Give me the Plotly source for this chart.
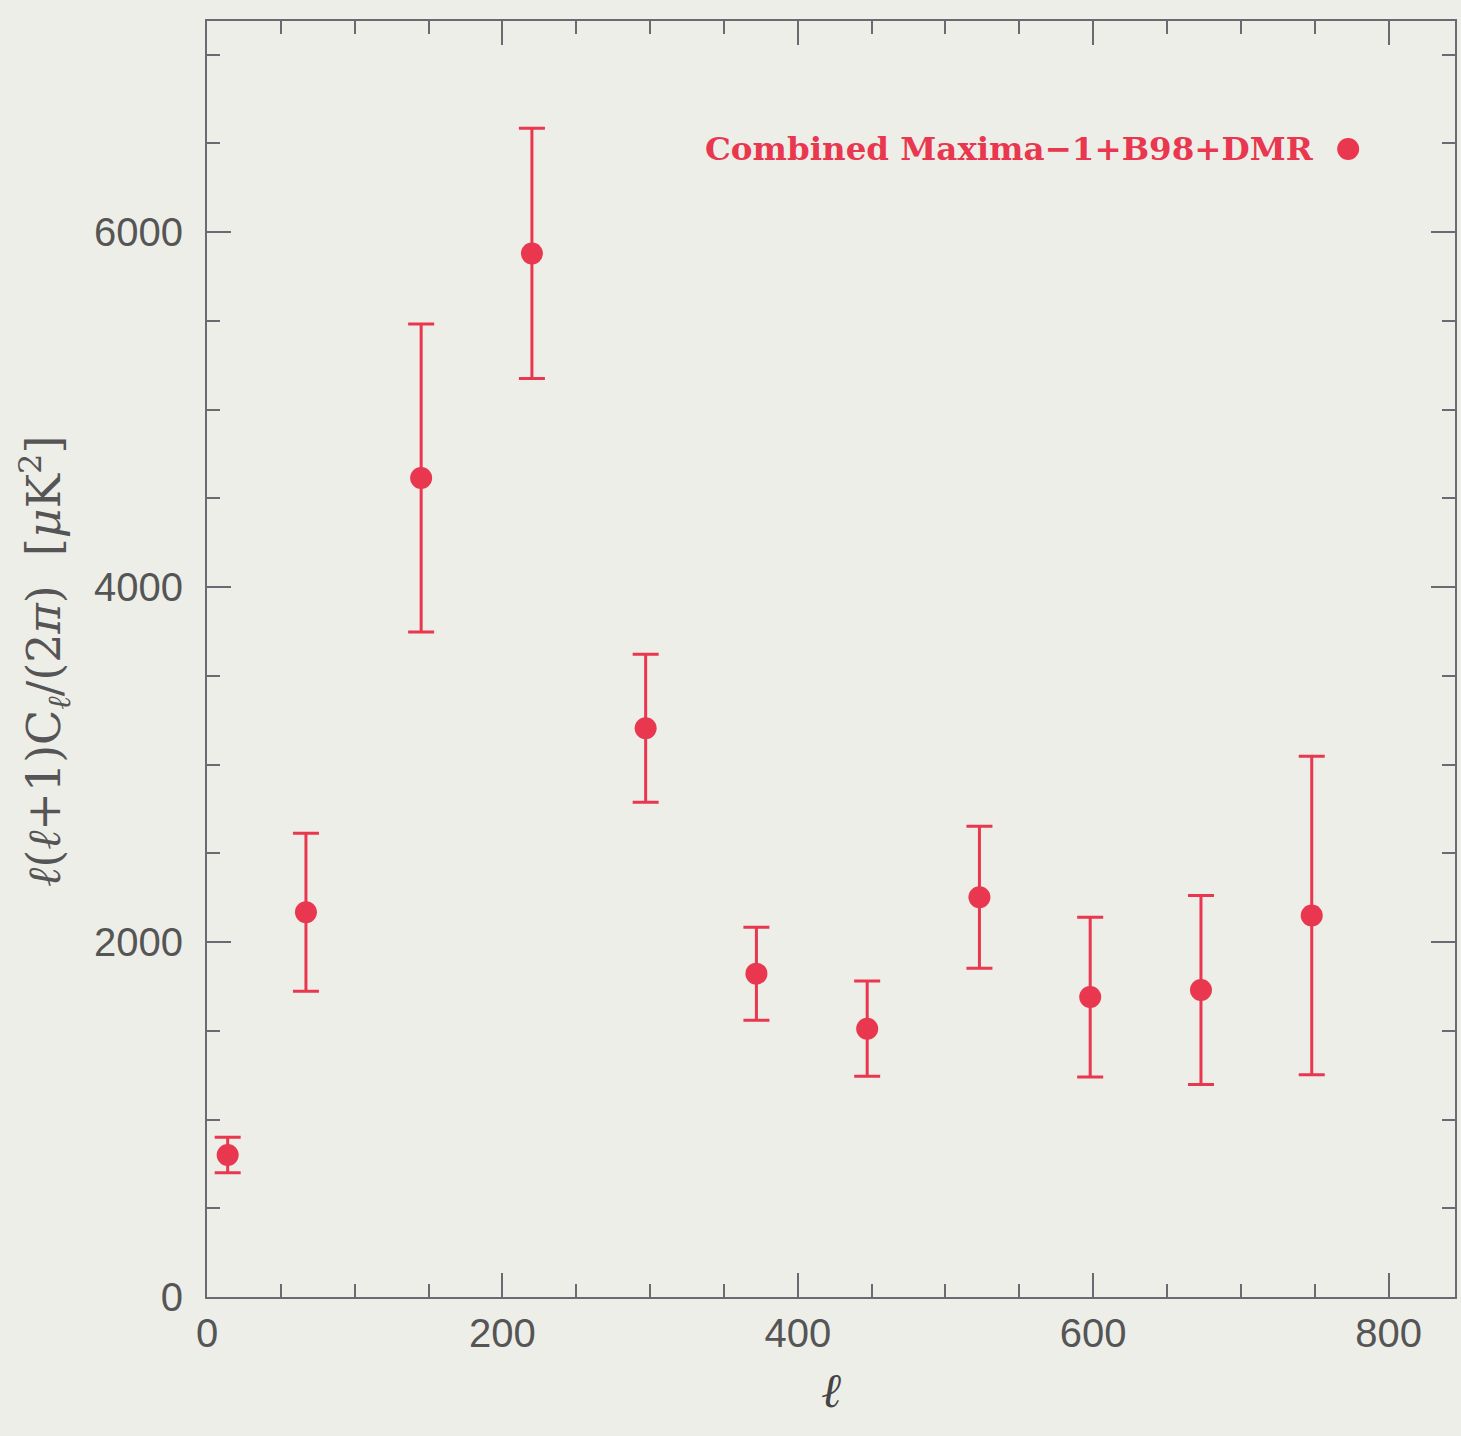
import plotly.graph_objects as go

# Data
ell = [14, 67, 145, 220, 297, 372, 447, 523, 598, 673, 748]
power = [800, 2168, 4615, 5880, 3205, 1822, 1512, 2252, 1690, 1730, 2150]
err = [100, 445, 868, 705, 417, 262, 268, 400, 450, 533, 897]

legend_label = "Combined Maxima\u22121+B98+DMR"
red = "#e8374e"
bg = "#eeeee8"
axcol = "#6a6a72"
txtcol = "#555555"

fig = go.Figure()
fig.add_trace(go.Scatter(
    x=ell, y=power, mode="markers",
    marker=dict(size=22, color=red),
    error_y=dict(type="data", array=err, visible=True, color=red, thickness=3, width=13),
    showlegend=False,
))

axis_common = dict(
    showline=True, linecolor=axcol, linewidth=2, mirror="allticks",
    ticks="inside", tickcolor=axcol, tickwidth=2, ticklen=24,
    showgrid=False, zeroline=False,
    tickfont=dict(family="Liberation Sans, Arial, sans-serif", size=40, color=txtcol),
)

fig.update_xaxes(
    range=[0, 845], tickvals=[0, 200, 400, 600, 800],
    minor=dict(dtick=50, tick0=0, ticks="inside", ticklen=13, tickcolor=axcol, tickwidth=2, showgrid=False),
    ticklabelstandoff=0,
    **axis_common,
)
fig.update_yaxes(
    range=[0, 7190], tickvals=[0, 2000, 4000, 6000],
    minor=dict(dtick=500, tick0=0, ticks="inside", ticklen=13, tickcolor=axcol, tickwidth=2, showgrid=False),
    ticklabelstandoff=14,
    **axis_common,
)

fig.update_layout(
    width=1461, height=1436,
    margin=dict(l=207, r=4, t=21, b=139),
    paper_bgcolor=bg, plot_bgcolor=bg,
    annotations=[
        dict(text=legend_label, xref="paper", yref="paper", x=0.8888, y=0.8997,
             xanchor="right", yanchor="middle", showarrow=False,
             font=dict(family="DejaVu Serif, serif", size=32.5, color=red, weight="bold")),
        dict(text="<i>\u2113</i>", xref="paper", yref="paper", x=0.5, y=-0.073,
             xanchor="center", yanchor="middle", showarrow=False,
             font=dict(family="DejaVu Serif, serif", size=48, color="#444444")),
        dict(text="<i>\u2113</i>(<i>\u2113</i>+1)C<sub><i>\u2113</i></sub>/(2<i>\u03c0</i>)\u00a0\u00a0[<i>\u03bc</i>K<sup>2</sup>]",
             xref="paper", yref="paper", x=0, y=0.4977, xshift=-162,
             xanchor="center", yanchor="middle", textangle=-90, showarrow=False,
             font=dict(family="DejaVu Serif, serif", size=46, color=txtcol)),
    ],
    shapes=[
        dict(type="circle", xref="paper", yref="paper",
             x0=0.9056, x1=0.9232, y0=0.8911, y1=0.9083,
             fillcolor=red, line=dict(width=0)),
    ],
)

fig.write_html("out.html")
